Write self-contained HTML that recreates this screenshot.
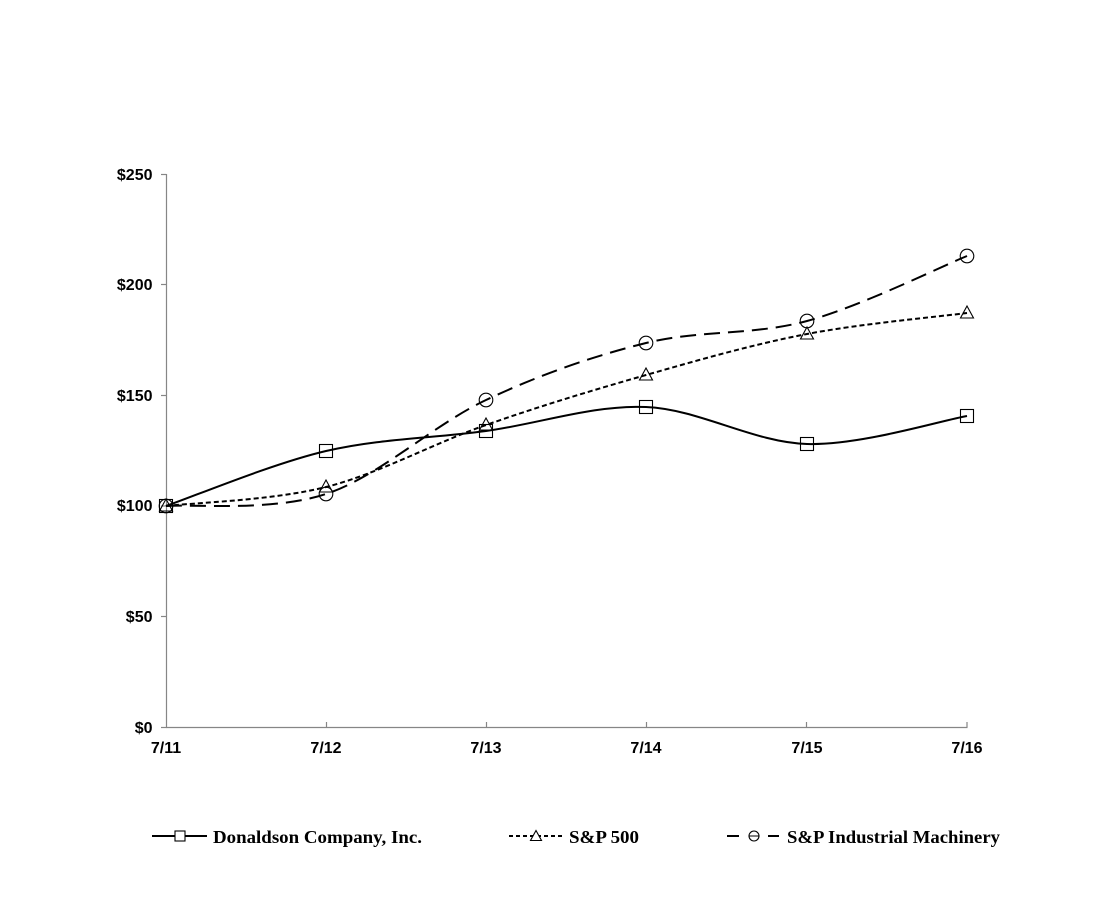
<!DOCTYPE html>
<html>
<head>
<meta charset="utf-8">
<style>
html,body{margin:0;padding:0;background:#fff;}
svg{display:block;}
.ax{font-family:"Liberation Sans",Arial,sans-serif;font-weight:bold;font-size:16px;fill:#000;}
.lg{font-family:"Liberation Serif","Times New Roman",serif;font-weight:bold;font-size:17.5px;fill:#000;}
</style>
</head>
<body>
<svg width="1105" height="920" viewBox="0 0 1105 920" xmlns="http://www.w3.org/2000/svg">
<rect width="1105" height="920" fill="#fff"/>
<!-- axes -->
<g stroke="#868686" stroke-width="1.2" fill="none">
<line x1="166.5" y1="174" x2="166.5" y2="727.5"/>
<line x1="166" y1="727.5" x2="967.5" y2="727.5"/>
<line x1="161" y1="174.5" x2="166.5" y2="174.5"/>
<line x1="161" y1="284.5" x2="166.5" y2="284.5"/>
<line x1="161" y1="395.5" x2="166.5" y2="395.5"/>
<line x1="161" y1="506" x2="166.5" y2="506"/>
<line x1="161" y1="616.5" x2="166.5" y2="616.5"/>
<line x1="161" y1="727.5" x2="166.5" y2="727.5"/>
<line x1="326.5" y1="722" x2="326.5" y2="727.5"/>
<line x1="486.5" y1="722" x2="486.5" y2="727.5"/>
<line x1="646.5" y1="722" x2="646.5" y2="727.5"/>
<line x1="806.5" y1="722" x2="806.5" y2="727.5"/>
<line x1="967" y1="722" x2="967" y2="727.5"/>
</g>
<g class="ax" text-anchor="end">
<text x="152.5" y="180">$250</text>
<text x="152.5" y="290">$200</text>
<text x="152.5" y="401">$150</text>
<text x="152.5" y="511">$100</text>
<text x="152.5" y="622">$50</text>
<text x="152.5" y="733">$0</text>
</g>
<g class="ax" text-anchor="middle">
<text x="166" y="753">7/11</text>
<text x="326" y="753">7/12</text>
<text x="486" y="753">7/13</text>
<text x="646" y="753">7/14</text>
<text x="807" y="753">7/15</text>
<text x="967" y="753">7/16</text>
</g>
<!-- series -->
<g fill="none" stroke="#000" stroke-width="2">
<path d="M166,506 C192.7,496.8 272.7,463.5 326,451 C379.3,438.5 432.7,438.3 486,431 C539.3,423.7 592.7,404.8 646,407 C699.3,409.2 753.5,442.5 807,444 C860.5,445.5 940.3,420.7 967,416"/>
<path stroke-dasharray="5,3" d="M166,506 C192.7,502.8 272.7,500.5 326,487 C379.3,473.5 432.7,443.7 486,425 C539.3,406.3 592.7,390.2 646,375 C699.3,359.8 753.5,344.3 807,334 C860.5,323.7 940.3,316.5 967,313"/>
<path stroke-dasharray="16,8" d="M166,506 C192.7,504 272.7,511.7 326,494 C379.3,476.3 432.7,425.2 486,400 C539.3,374.8 592.7,356.2 646,343 C699.3,329.8 753.5,335.5 807,321 C860.5,306.5 940.3,266.8 967,256"/>
</g>
<!-- markers -->
<g fill="none" stroke="#000" stroke-width="1.1">
<circle cx="166" cy="506" r="6.8"/>
<circle cx="326" cy="494" r="6.8"/>
<circle cx="486" cy="400" r="6.8"/>
<circle cx="646" cy="343" r="6.8"/>
<circle cx="807" cy="321" r="6.8"/>
<circle cx="967" cy="256" r="6.8"/>
<path d="M166,499 L172.5,511 L159.5,511 Z"/>
<path d="M326,480 L332.5,492 L319.5,492 Z"/>
<path d="M486,418 L492.5,430 L479.5,430 Z"/>
<path d="M646,368 L652.5,380 L639.5,380 Z"/>
<path d="M807,327 L813.5,339 L800.5,339 Z"/>
<path d="M967,306 L973.5,318 L960.5,318 Z"/>
<rect x="159.5" y="499.5" width="13" height="13"/>
<rect x="319.5" y="444.5" width="13" height="13"/>
<rect x="479.5" y="424.5" width="13" height="13"/>
<rect x="639.5" y="400.5" width="13" height="13"/>
<rect x="800.5" y="437.5" width="13" height="13"/>
<rect x="960.5" y="409.5" width="13" height="13"/>
</g>
<!-- legend -->
<g stroke="#000" stroke-width="2" fill="none">
<line x1="152" y1="836" x2="207" y2="836"/>
<line x1="509" y1="836" x2="563" y2="836" stroke-dasharray="4,3"/>
<line x1="727" y1="836" x2="739" y2="836"/>
<line x1="768" y1="836" x2="779" y2="836"/>
</g>
<g stroke="#000" stroke-width="1.1" fill="#fff">
<rect x="175" y="831" width="10" height="10"/>
<path d="M536,830.5 L541.5,840.5 L530.5,840.5 Z"/>
<circle cx="754" cy="836" r="5"/>
</g>
<line x1="749" y1="836" x2="759" y2="836" stroke="#000" stroke-width="1"/>
<g class="lg">
<text x="213" y="843" textLength="209" lengthAdjust="spacingAndGlyphs">Donaldson Company, Inc.</text>
<text x="569" y="843" textLength="70" lengthAdjust="spacingAndGlyphs">S&amp;P 500</text>
<text x="787" y="843" textLength="213" lengthAdjust="spacingAndGlyphs">S&amp;P Industrial Machinery</text>
</g>
</svg>
</body>
</html>
